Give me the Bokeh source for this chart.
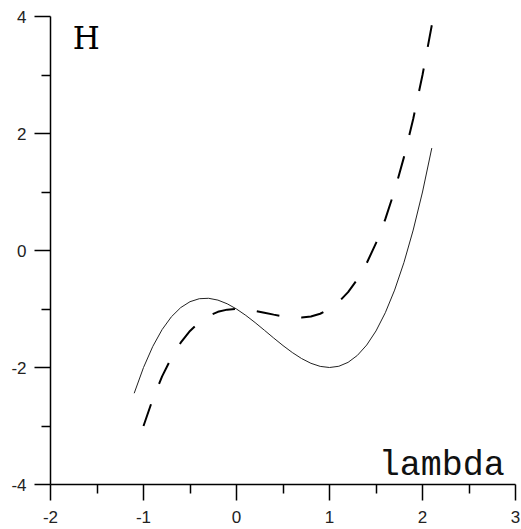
from bokeh.plotting import figure
from bokeh.models import Range1d, FixedTicker, Label
from bokeh.embed import file_html
from bokeh.resources import INLINE

# Data
lam_solid = [-1.1, -1.0, -0.9, -0.8, -0.7, -0.6, -0.5, -0.4, -0.3, -0.2, -0.1, 0.0,
             0.1, 0.2, 0.3, 0.4, 0.5, 0.6, 0.7, 0.8, 0.9, 1.0, 1.1, 1.2, 1.3, 1.4,
             1.5, 1.6, 1.7, 1.8, 1.9, 2.0, 2.1]
h_solid = [-2.44, -2.0, -1.639, -1.352, -1.133, -0.976, -0.875, -0.824, -0.817, -0.848,
           -0.911, -1.0, -1.109, -1.232, -1.363, -1.496, -1.625, -1.744, -1.847, -1.928,
           -1.981, -2.0, -1.979, -1.912, -1.793, -1.616, -1.375, -1.064, -0.677, -0.208,
           0.349, 1.0, 1.751]

lam_dash = [-1.0, -0.9, -0.8, -0.7, -0.6, -0.5, -0.4, -0.3, -0.2, -0.1, 0.0,
            0.1, 0.2, 0.3, 0.4, 0.5, 0.6, 0.7, 0.8, 0.9, 1.0, 1.1, 1.2, 1.3, 1.4,
            1.5, 1.6, 1.7, 1.8, 1.9, 2.0, 2.1]
h_dash = [-3.0, -2.539, -2.152, -1.833, -1.576, -1.375, -1.224, -1.117, -1.048, -1.011,
          -1.0, -1.009, -1.032, -1.063, -1.096, -1.125, -1.144, -1.147, -1.128, -1.081,
          -1.0, -0.879, -0.712, -0.493, -0.216, 0.125, 0.536, 1.023, 1.592, 2.249,
          3.0, 3.851]

x_ticks = [-2, -1, 0, 1, 2, 3]
x_labels = ["-2", "-1", "0", "1", "2", "3"]
x_minor = [-1.5, -0.5, 0.5, 1.5, 2.5]
y_ticks = [-4, -2, 0, 2, 4]
y_labels = ["-4", "-2", "0", "2", "4"]
y_minor = [-3, -1, 1, 3]

p = figure(width=521, height=529, output_backend="svg", toolbar_location=None,
           x_range=Range1d(-2, 3), y_range=Range1d(-4, 4),
           min_border_left=50, min_border_right=6, min_border_top=16,
           min_border_bottom=45)
p.outline_line_color = None
p.grid.visible = False
p.background_fill_color = "white"
p.border_fill_color = "white"

p.xaxis.ticker = FixedTicker(ticks=x_ticks, minor_ticks=x_minor)
p.yaxis.ticker = FixedTicker(ticks=y_ticks, minor_ticks=y_minor)
p.xaxis.major_label_overrides = {float(t): l for t, l in zip(x_ticks, x_labels)}
p.yaxis.major_label_overrides = {float(t): l for t, l in zip(y_ticks, y_labels)}
for ax in (p.xaxis, p.yaxis):
    ax.axis_line_color = "black"
    ax.axis_line_width = 1.5
    ax.major_tick_line_color = "black"
    ax.major_tick_line_width = 1.5
    ax.minor_tick_line_color = "black"
    ax.minor_tick_line_width = 1.5
    ax.major_tick_out = 16
    ax.major_tick_in = 0
    ax.minor_tick_out = 9
    ax.minor_tick_in = 0
    ax.major_label_text_font = "Liberation Sans"
    ax.major_label_text_font_size = "17px"
    ax.major_label_text_color = "#222222"
p.xaxis.major_label_standoff = 10
p.yaxis.major_label_standoff = 8

p.line(lam_solid, h_solid, line_color="#222222", line_width=1.0)
p.line(lam_dash, h_dash, line_color="black", line_width=2, line_dash="23 22")

p.add_layout(Label(x=-1.76, y=3.64, text="H", text_font="DejaVu Serif",
                   text_font_size="31px", text_color="black",
                   text_baseline="alphabetic"))
p.add_layout(Label(x=1.53, y=-3.68, text="lambda", text_font="Liberation Mono",
                   text_font_size="35px", text_color="#111111",
                   text_baseline="alphabetic"))

open("out.html", "w").write(file_html(p, INLINE))
